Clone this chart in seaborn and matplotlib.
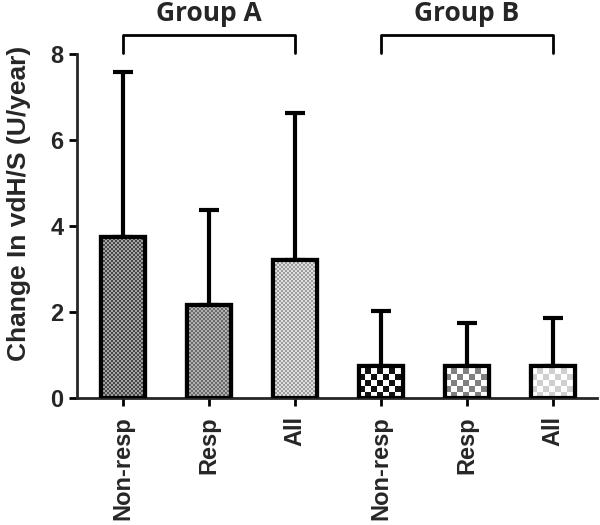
import numpy as np
import pandas as pd
import matplotlib
matplotlib.use("Agg")
import matplotlib.pyplot as plt
import seaborn as sns
from matplotlib.patches import Rectangle
from matplotlib.colors import to_rgb

# ---- data ----
groups = ["Group A", "Group A", "Group A", "Group B", "Group B", "Group B"]
tick_labels = ["Non-resp", "Resp", "All", "Non-resp", "Resp", "All"]
means = [3.74, 2.16, 3.20, 0.74, 0.74, 0.74]
sd_upper = [3.84, 2.21, 3.43, 1.28, 1.00, 1.12]
group_names = ["Group A", "Group B"]
y_ticks = [0, 2, 4, 6, 8]

keys = [f"{g}|{t}" for g, t in zip(groups, tick_labels)]
df = pd.DataFrame({"key": keys, "mean": means, "group": groups, "label": tick_labels})

# texture colours (dark, light, cell px)
textures = [
    ("#484848", "#a4a4a4", 2),
    ("#6a6a6a", "#b0b0b0", 2),
    ("#9c9c9c", "#e0e0e0", 2),
    ("#111111", "#ffffff", 6),
    ("#808080", "#ffffff", 6),
    ("#cfcfcf", "#ffffff", 6),
]

sns.set_style("ticks")
plt.rcParams["font.family"] = ["Liberation Sans", "DejaVu Sans"]

fig = plt.figure(figsize=(6.0, 5.25), dpi=100)
ax = fig.add_axes([0.128, 0.242, 0.867, 0.655])

sns.barplot(data=df, x="key", y="mean", order=keys, width=0.51, color="white",
            edgecolor="black", linewidth=3, errorbar=None, ax=ax, zorder=3)

ax.set_xlim(-0.535, 5.51)
ax.set_ylim(0, 8)

ax.errorbar(np.arange(len(means)), means, yerr=[np.zeros(len(means)), sd_upper],
            fmt="none", ecolor="black", elinewidth=3, capsize=7, capthick=3, zorder=2)

# textures
for patch, (dark, light, cell) in zip(ax.patches, textures):
    x0, y0 = patch.get_x(), patch.get_y()
    w, h = patch.get_width(), patch.get_height()
    p0 = ax.transData.transform((x0, y0))
    p1 = ax.transData.transform((x0 + w, y0 + h))
    wpx = max(1, int(round(abs(p1[0] - p0[0]))))
    hpx = max(1, int(round(abs(p1[1] - p0[1]))))
    yy, xx = np.mgrid[0:hpx, 0:wpx]
    mask = ((xx // cell) + (yy // cell)) % 2
    img = np.where(mask[..., None] == 1, np.array(to_rgb(dark)), np.array(to_rgb(light)))
    ax.imshow(img, extent=(x0, x0 + w, y0, y0 + h), origin="lower",
              interpolation="nearest", aspect="auto", zorder=3.5)
    ax.add_patch(Rectangle((x0, y0), w, h, fill=False, edgecolor="black",
                           linewidth=3, zorder=4))
ax.set_xlim(-0.535, 5.51)
ax.set_ylim(0, 8)

ax.set_yticks(y_ticks)
ax.set_yticklabels([str(v) for v in y_ticks], fontsize=17, fontweight="bold")
ax.set_xticks(np.arange(len(keys)))
ax.set_xticklabels(tick_labels, rotation=90, fontsize=17, fontweight="bold")
ax.set_xlabel("")
ax.set_ylabel("Change In vdH/S (U/year)", fontsize=19, fontweight="bold")
ax.yaxis.set_label_coords(-0.088, 0.567)

for s in ["top", "right"]:
    ax.spines[s].set_visible(False)
ax.spines["left"].set_linewidth(2)
ax.spines["bottom"].set_linewidth(2)
ax.tick_params(axis="both", width=2, length=6, color="black")
ax.tick_params(axis="x", pad=7)

# group brackets
for gi, gname in enumerate(group_names):
    idx = [i for i, g in enumerate(groups) if g == gname]
    xa, xb = min(idx), max(idx)
    ax.plot([xa, xa, xb, xb], [8.02, 8.44, 8.44, 8.02], color="black", lw=2,
            clip_on=False, zorder=5)
    ax.text((xa + xb) / 2, 8.95, gname, ha="center", va="center", fontsize=19,
            fontweight="bold", family=["Open Sans", "DejaVu Sans"], clip_on=False)

fig.savefig("out.png", dpi=100)
